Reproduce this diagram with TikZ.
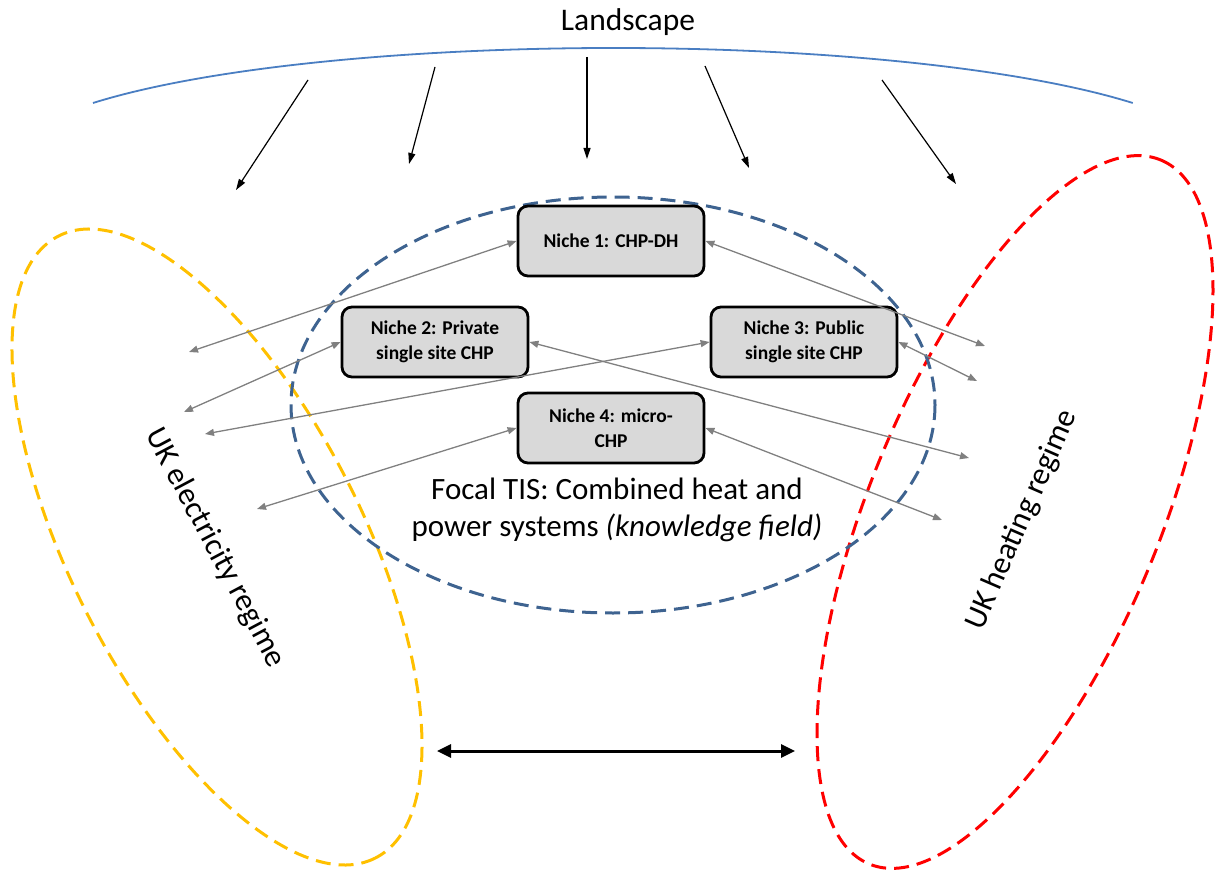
\documentclass[tikz,border=0pt]{standalone}
\usepackage{fontspec}
\setmainfont{Carlito}
\usetikzlibrary{arrows.meta}
\definecolor{arcblue}{HTML}{4A7EC2}
\definecolor{tisblue}{HTML}{3E6390}
\definecolor{elecyellow}{HTML}{FFC000}
\definecolor{heatred}{HTML}{FF0000}
\definecolor{nichefill}{HTML}{D9D9D9}
\definecolor{linkgray}{HTML}{808080}
\begin{document}
\begin{tikzpicture}[x=1pt,y=-1pt,
  niche/.style={draw=black, line width=2.8pt, fill=nichefill, rounded corners=10pt,
    minimum width=186pt, minimum height=70pt, align=center, inner sep=2pt,
    font=\fontsize{19.5}{24.5}\selectfont\bfseries},
  regime/.style={dash pattern=on 15pt off 8pt, line width=3pt},
  link/.style={linkgray, line width=1.3pt,
    {Triangle[length=9pt,width=7pt]}-{Triangle[length=9pt,width=7pt]}},
  influence/.style={black, line width=1.2pt, -{Triangle[length=11pt,width=7pt]}},
  label/.style={font=\fontsize{31.5}{36}\selectfont, inner sep=0pt},
]
\useasboundingbox (0,0) rectangle (1215,874);

% regimes and the focal innovation system
\draw[regime, elecyellow, rotate around={-63:(217,547)}] (217,547) ellipse [x radius=349, y radius=146];
\draw[regime, heatred, rotate around={67.5:(1015,512)}] (1015,512) ellipse [x radius=381, y radius=145];
\draw[regime, tisblue] (613,405) ellipse [x radius=322, y radius=208];

% landscape
\node[label] (land) at (628,22) {Landscape};
\draw[arcblue, line width=1.8pt] (93,103) arc[start angle=-149.4, end angle=-30.6, x radius=604, y radius=112];

\coordinate (l1s) at (308,80);  \coordinate (l1e) at (236,190);
\coordinate (l2s) at (435,67);  \coordinate (l2e) at (409,164);
\coordinate (l3s) at (587,57);  \coordinate (l3e) at (587,159);
\coordinate (l4s) at (705,66);  \coordinate (l4e) at (749,168);
\coordinate (l5s) at (882,80);  \coordinate (l5e) at (956,184);
\foreach \i in {1,...,5} \draw[influence] (l\i s) -- (l\i e);

% niches
\node[niche] (n1) at (611,241) {Niche 1: CHP-DH};
\node[niche] (n2) at (435,342) {Niche 2: Private\\single site CHP};
\node[niche] (n3) at (804,342) {Niche 3: Public\\single site CHP};
\node[niche] (n4) at (611,428) {Niche 4: micro-\\CHP};

% links between niches and regimes
\coordinate (e1) at (189,352);
\coordinate (e2) at (184,412);
\coordinate (e3) at (205,434);
\coordinate (e4) at (257,509);
\coordinate (h1) at (985,346);
\coordinate (h2) at (969,458);
\coordinate (h3) at (977,381);
\coordinate (h4) at (942,520);
\draw[link] (n1.west) -- (e1);
\draw[link] (n2.west) -- (e2);
\draw[link] (n3.west) -- (e3);
\draw[link] (n4.west) -- (e4);
\draw[link] (n1.east) -- (h1);
\draw[link] (n2.east) -- (h2);
\draw[link] (n3.east) -- (h3);
\draw[link] (n4.east) -- (h4);

% captions
\node[font=\fontsize{31}{37}\selectfont, align=center, inner sep=0pt] (tis) at (617,510)
  {Focal TIS: Combined heat and\\power systems \textit{(knowledge field)}};
\node[label, rotate=-62] (elec) at (215,548) {UK electricity regime};
\node[label, rotate=66.5] (heat) at (1022,520) {UK heating regime};

% interaction between the two regimes
\coordinate (b1) at (437,751);
\coordinate (b2) at (795,751);
\draw[black, line width=3pt, {Triangle[length=14pt,width=13pt]}-{Triangle[length=14pt,width=13pt]}] (b1) -- (b2);
\end{tikzpicture}
\end{document}
